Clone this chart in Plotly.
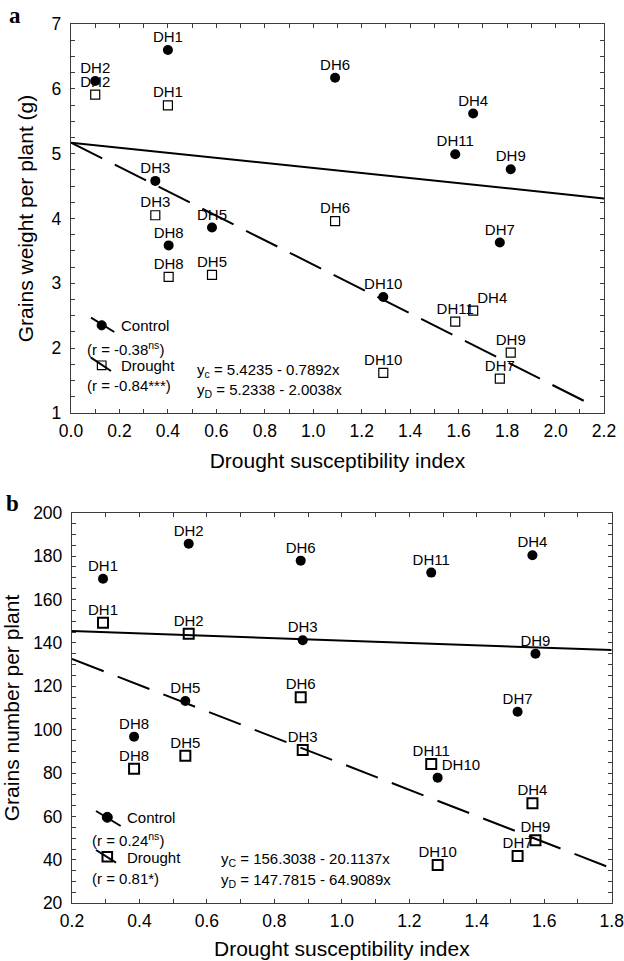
import plotly.graph_objects as go

# ---------------- data ----------------
labels = ["DH1", "DH2", "DH3", "DH4", "DH5", "DH6", "DH7", "DH8", "DH9", "DH10", "DH11"]

# panel a: grains weight per plant (g)
a_dsi = [0.40, 0.10, 0.348, 1.66, 0.582, 1.09, 1.77, 0.403, 1.815, 1.289, 1.586]
a_control = [6.60, 6.12, 4.58, 5.62, 3.86, 6.17, 3.63, 3.585, 4.76, 2.79, 4.99]
a_drought = [5.745, 5.91, 4.05, 2.58, 3.13, 3.96, 1.53, 3.10, 1.93, 1.62, 2.41]
a_fit_control_x = [0.0, 2.2]
a_fit_control_y = [5.17, 4.31]
a_fit_drought_x = [0.0, 2.153]
a_fit_drought_y = [5.17, 1.12]

# panel b: grains number per plant
b_dsi = [0.292, 0.546, 0.884, 1.565, 0.536, 0.878, 1.521, 0.384, 1.574, 1.284, 1.265]
b_control = [169.6, 185.7, 141.2, 180.4, 113.2, 177.9, 108.3, 96.8, 135.0, 77.9, 172.4]
b_drought = [149.3, 144.2, 90.6, 66.1, 88.0, 114.9, 41.8, 82.0, 49.0, 37.6, 84.2]
b_fit_control_x = [0.2, 1.8]
b_fit_control_y = [145.5, 136.7]
b_fit_drought_x = [0.2, 1.8]
b_fit_drought_y = [132.6, 36.1]

a_xticks = [0.0, 0.2, 0.4, 0.6, 0.8, 1.0, 1.2, 1.4, 1.6, 1.8, 2.0, 2.2]
a_yticks = [1, 2, 3, 4, 5, 6, 7]
b_xticks = [0.2, 0.4, 0.6, 0.8, 1.0, 1.2, 1.4, 1.6, 1.8]
b_yticks = [20, 40, 60, 80, 100, 120, 140, 160, 180, 200]

# ---------------- style ----------------
W, H = 624, 961
FONT = "Liberation Sans, Arial, sans-serif"
LBL = 15
AXC = "#3c3c3c"


def px(x):
    return x / W


def py(y):
    return 1 - y / H


fig = go.Figure()


def textpos(special):
    return [special.get(l, "top center") for l in labels]


def add_panel(xa, ya, dsi, ctrl, drt, fcx, fcy, fdx, fdy, dash, sq_size, sq_lw,
              ctrl_pos, drt_pos):
    fig.add_trace(go.Scatter(x=fcx, y=fcy, mode="lines", xaxis=xa, yaxis=ya,
                             line=dict(color="black", width=2), showlegend=False,
                             hoverinfo="skip"))
    fig.add_trace(go.Scatter(x=fdx, y=fdy, mode="lines", xaxis=xa, yaxis=ya,
                             line=dict(color="black", width=2, dash=dash),
                             showlegend=False, hoverinfo="skip"))
    fig.add_trace(go.Scatter(x=dsi, y=drt, mode="markers", xaxis=xa, yaxis=ya,
                             marker=dict(symbol="square-open", size=sq_size,
                                         color="black", line=dict(width=sq_lw)),
                             showlegend=False, name="Drought"))
    fig.add_trace(go.Scatter(x=dsi, y=ctrl, mode="markers", xaxis=xa, yaxis=ya,
                             marker=dict(symbol="circle", size=10, color="black"),
                             showlegend=False, name="Control"))
    for yy, pos in ((drt, drt_pos), (ctrl, ctrl_pos)):
        fig.add_trace(go.Scatter(x=dsi, y=yy, mode="markers+text", text=labels,
                                 textposition=textpos(pos), xaxis=xa, yaxis=ya,
                                 marker=dict(size=5, color="rgba(0,0,0,0)"),
                                 textfont=dict(family=FONT, size=LBL, color="black"),
                                 showlegend=False, hoverinfo="skip"))


add_panel("x", "y", a_dsi, a_control, a_drought, a_fit_control_x, a_fit_control_y,
          a_fit_drought_x, a_fit_drought_y, "35px,14px", 9, 1.2,
          {}, {"DH4": "top right"})
add_panel("x2", "y2", b_dsi, b_control, b_drought, b_fit_control_x, b_fit_control_y,
          b_fit_drought_x, b_fit_drought_y, "34px,15px", 10, 2,
          {"DH10": "top right"}, {})


def axis(domain, rng, tickvals, dtick_minor, fmt, anchor, title, standoff, lstand):
    return dict(domain=domain, range=rng, tickmode="array", tickvals=tickvals,
                tickformat=fmt, ticks="inside", ticklen=4, tickwidth=1,
                tickcolor=AXC, showline=True, linecolor=AXC, linewidth=1.3,
                mirror="allticks", showgrid=False, zeroline=False, anchor=anchor,
                automargin=False, ticklabeloverflow="allow",
                ticklabelstandoff=lstand,
                minor=dict(dtick=dtick_minor, ticks="inside", ticklen=4,
                           tickcolor=AXC, showgrid=False),
                tickfont=dict(family=FONT, size=17.5, color="black"),
                title=dict(text=title, standoff=standoff,
                           font=dict(family=FONT, size=21, color="black")))


fig.update_layout(
    width=W, height=H, margin=dict(l=0, r=0, t=0, b=0, autoexpand=False),
    paper_bgcolor="white", plot_bgcolor="white", showlegend=False,
    xaxis=axis([px(71), px(604)], [0, 2.2], a_xticks, 0.1, ".1f", "y",
               "Drought susceptibility index", 13, 2),
    yaxis=axis([py(413), py(24)], [1, 7], a_yticks, 0.25, "d", "x",
               "Grains weight per plant (g)", 12, 5),
    xaxis2=axis([px(72), px(611.7)], [0.2, 1.8], b_xticks, 0.1, ".1f", "y2",
                "Drought susceptibility index", 10, 2),
    yaxis2=axis([py(903.3), py(512.7)], [20, 200], b_yticks, 5, "d", "x2",
                "Grains number per plant", 7, 5),
)

ann = []


def text(x, y, s, size=LBL, anchor="left", family=FONT, bold=False):
    if bold:
        s = "<b>" + s + "</b>"
    ann.append(dict(x=px(x), y=py(y), xref="paper", yref="paper", text=s,
                    showarrow=False, xanchor=anchor, yanchor="middle",
                    font=dict(family=family, size=size, color="black")))


SERIF = "Liberation Serif, Times New Roman, serif"
# panel letters
text(7, 16, "a", size=23, family=SERIF, bold=True)
text(4, 503, "b", size=23, family=SERIF, bold=True)

# panel a legend texts and equations
text(119, 325, "Control")
text(85, 348, "(r = -0.38<sup>ns</sup>)")
text(119, 365, "Drought")
text(85, 385, "(r = -0.84***)")
text(195, 371, "y<sub>c</sub> = 5.4235 - 0.7892x")
text(195, 391, "y<sub>D</sub> = 5.2338 - 2.0038x")

# panel b legend texts and equations
text(125, 817, "Control")
text(90, 839, "(r = 0.24<sup>ns</sup>)")
text(125, 857, "Drought")
text(90, 878, "(r = 0.81*)")
text(219, 859, "y<sub>C</sub> = 156.3038 - 20.1137x")
text(219, 880, "y<sub>D</sub> = 147.7815 - 64.9089x")

fig.update_layout(annotations=ann)

shapes = []


def seg(x0, y0, x1, y1, w):
    shapes.append(dict(type="line", xref="paper", yref="paper", x0=px(x0), y0=py(y0),
                       x1=px(x1), y1=py(y1), line=dict(color="black", width=w)))


def glyph(kind, cx, cy, r, lw):
    shapes.append(dict(type=kind, xref="paper", yref="paper",
                       x0=px(cx - r), x1=px(cx + r), y0=py(cy + r), y1=py(cy - r),
                       fillcolor="black" if kind == "circle" else "rgba(0,0,0,0)",
                       line=dict(color="black", width=lw)))


# panel a legend glyphs
seg(91, 317.7, 114.3, 332, 2)
glyph("circle", 101.7, 325.3, 4.6, 1)
seg(91, 357.7, 111, 371, 2)
glyph("rect", 101.7, 365.3, 4.3, 1.2)
# panel b legend glyphs
seg(96, 811, 120.7, 826, 2)
glyph("circle", 107.3, 817.3, 5, 1)
seg(96, 850, 116, 862.7, 2)
glyph("rect", 107.3, 856.7, 4.8, 2)

fig.update_layout(shapes=shapes)

fig.write_html("out.html", config={"displayModeBar": False},
               post_script="document.body.style.margin='0';")
